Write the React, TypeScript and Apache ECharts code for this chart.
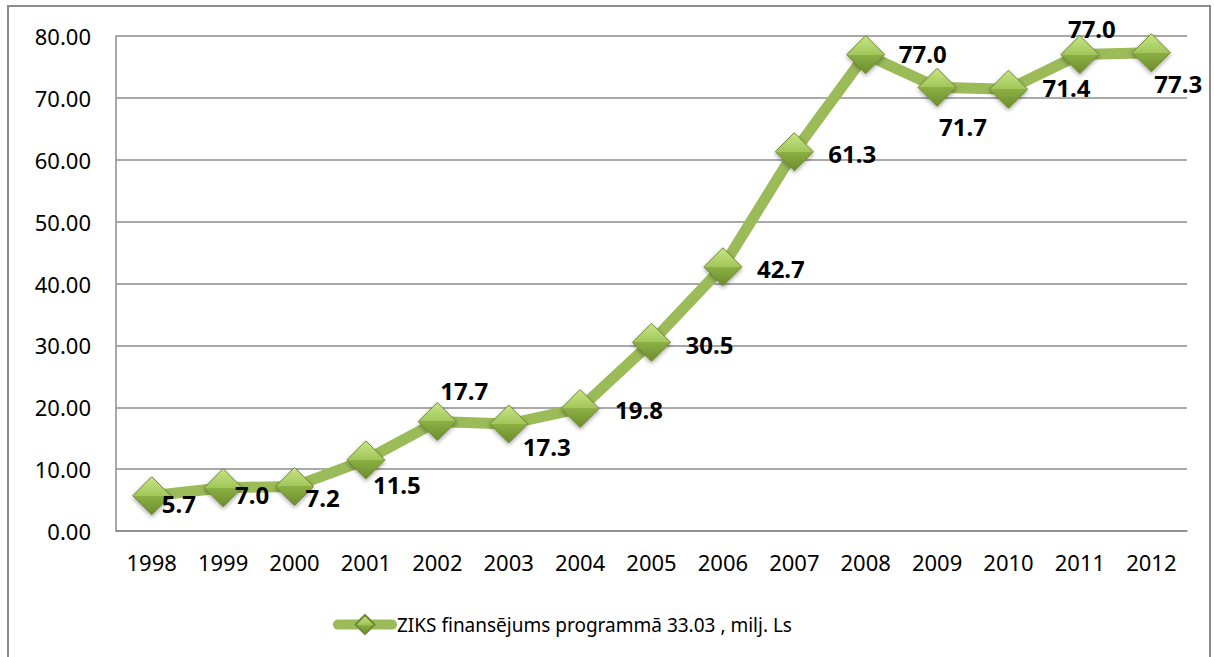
import React, { useEffect, useRef } from "react";
import * as echarts from "echarts";

const years = ["1998", "1999", "2000", "2001", "2002", "2003", "2004", "2005", "2006", "2007", "2008", "2009", "2010", "2011", "2012"];
const funding = [5.7, 7.0, 7.2, 11.5, 17.7, 17.3, 19.8, 30.5, 42.7, 61.3, 77.0, 71.7, 71.4, 77.0, 77.3];
const seriesName = "ZIKS finansējums programmā 33.03 , milj. Ls";
// label offsets [dx, dy] from each marker centre (text left edge, text middle)
const labelOffsets: [number, number][] = [
  [10, 8], [12, 7], [11, 11], [7, 25], [3, -31], [14, 23], [35, 1], [34, 2],
  [34, 2], [34, 2], [33, -1], [2, 39], [34, -2], [-12, -26], [3, 31],
];

const FONT = "'Noto Sans', 'Open Sans', sans-serif";

export default function App() {
  const ref = useRef<HTMLDivElement>(null);
  useEffect(() => {
    if (!ref.current) return;
    const chart = echarts.init(ref.current, null, { renderer: "svg" });
    const markerFill = new echarts.graphic.LinearGradient(0, 0, 0, 1, [
      { offset: 0, color: "#c8e585" },
      { offset: 0.5, color: "#a2c65a" },
      { offset: 0.5, color: "#8cb044" },
      { offset: 1, color: "#6c8c2c" },
    ]);
    chart.setOption({
      animation: false,
      backgroundColor: "#ffffff",
      graphic: [
        {
          type: "rect",
          shape: { x: 8, y: 6, width: 1202, height: 700 },
          style: { fill: "none", stroke: "#8c8c8c", lineWidth: 2 },
          silent: true,
        },
      ],
      grid: { left: 116, right: 27, top: 36, bottom: 126, containLabel: false },
      xAxis: {
        type: "category",
        data: years,
        boundaryGap: true,
        axisLine: { show: true, lineStyle: { color: "#8c8c8c", width: 1.5 } },
        axisTick: { show: false },
        axisLabel: { color: "#000", fontSize: 22, fontFamily: FONT, margin: 20 },
      },
      yAxis: {
        type: "value",
        min: 0,
        max: 80,
        interval: 10,
        axisLine: { show: true, lineStyle: { color: "#8c8c8c", width: 1.5 } },
        axisTick: { show: false },
        splitLine: { show: true, lineStyle: { color: "#8c8c8c", width: 1.5 } },
        axisLabel: {
          color: "#000",
          fontSize: 22,
          fontFamily: FONT,
          margin: 25,
          formatter: (v: number) => v.toFixed(2),
        },
      },
      legend: {
        left: 328,
        top: 609,
        itemWidth: 54,
        itemHeight: 24,
        lineStyle: { width: 10, cap: "round" },
        textStyle: { color: "#000", fontSize: 19, fontFamily: FONT },
        data: [seriesName],
      },
      series: [
        {
          name: seriesName,
          type: "line",
          data: funding.map((v, i) => ({
            value: v,
            label: {
              offset: labelOffsets[i],
            },
          })),
          lineStyle: { color: "#9bbb59", width: 11, cap: "round", join: "round" },
          itemStyle: {
            color: markerFill,
            borderColor: "#6f8a35",
            borderWidth: 1,
            shadowColor: "rgba(0,0,0,0.35)",
            shadowBlur: 4,
            shadowOffsetY: 2,
          },
          symbol: "diamond",
          symbolSize: [38, 38],
          label: {
            show: true,
            position: "inside",
            align: "left",
            verticalAlign: "middle",
            color: "#000",
            fontSize: 24,
            fontWeight: "bold",
            fontFamily: FONT,
            formatter: (p: any) => Number(p.value).toFixed(1),
          },
          z: 3,
        },
      ],
    });
    return () => chart.dispose();
  }, []);
  return <div ref={ref} style={{ position: "fixed", left: 0, top: 0, width: 1214, height: 657 }} />;
}
